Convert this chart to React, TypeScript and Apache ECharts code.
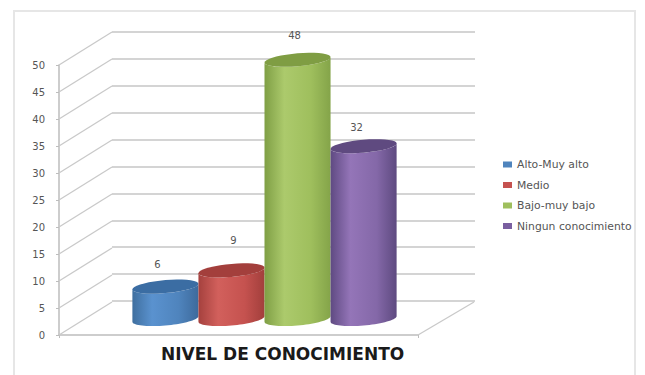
import React, { useEffect, useRef } from "react";
import * as echarts from "echarts";

const titleText = "NIVEL DE CONOCIMIENTO";
const seriesNames = ["Alto-Muy alto", "Medio", "Bajo-muy bajo", "Ningun conocimiento"];
const seriesValues = [6, 9, 48, 32];
const yTicks = [0, 5, 10, 15, 20, 25, 30, 35, 40, 45, 50];

// Horizontal shading of each cylinder wall, dark edge to highlight to dark edge.
const wallColors = [
  ["#3f6f9f", "#5a92cf", "#4f84bd", "#3d6a9c"],
  ["#a5413e", "#d2605c", "#c5524f", "#a23f3c"],
  ["#7f9f45", "#acca6c", "#9fbf5d", "#84a449"],
  ["#5f4a82", "#9475b8", "#8468a8", "#5e4a80"],
];
const capColors = ["#3b6da3", "#a33f3c", "#7f9d43", "#5f4a80"];
const legendColors = ["#4f84bd", "#c5524f", "#9fbf5d", "#7a5fa0"];

// Offset of the back wall from the front plane, in pixels.
const DEPTH_X = 53;
const DEPTH_Y = -33;
// The cylinders stand half-way between the front plane and the back wall.
const MID_X = 26;
const MID_Y = -16;
const SLOT_RATIO = 0.184;
const CAP_RY = 6.5;
const TILT = 2.8;
// Hand-placed nudges for the value labels above each cylinder.
const labelNudges = [
  [-8, -22],
  [2, -30],
  [-3, -24],
  [-7, -19],
];

function renderDepthLine(params: any, api: any) {
  const value = api.value(0);
  const [, y] = api.coord([0, value]);
  const left = params.coordSys.x;
  const lineStyle = { stroke: "#c9c9c9", lineWidth: 1.3, fill: "none" };
  const children: any[] = [
    { type: "line", shape: { x1: left, y1: y, x2: left + DEPTH_X, y2: y + DEPTH_Y }, style: lineStyle },
  ];
  if (value === 0) {
    const right = params.coordSys.x + params.coordSys.width;
    children.push({
      type: "line",
      shape: { x1: right, y1: y, x2: right + DEPTH_X + 3, y2: y + DEPTH_Y },
      style: lineStyle,
    });
  }
  return { type: "group", children };
}

// A point on a cylinder's sheared rim; the shear gives the slight perspective tilt.
function rimPoint(cx: number, cy: number, r: number, t: number) {
  return [cx + r * Math.cos(t), cy + CAP_RY * Math.sin(t) - TILT * Math.cos(t)];
}

function rimArc(cx: number, cy: number, r: number, from: number, to: number) {
  const steps = 36;
  const points: number[][] = [];
  for (let i = 0; i <= steps; i++) {
    points.push(rimPoint(cx, cy, r, from + ((to - from) * i) / steps));
  }
  return points;
}

function makeCylinder(index: number) {
  return (params: any, api: any) => {
    const value = api.value(1);
    const slot = api.size([1, 0])[0] * SLOT_RATIO;
    const [cx0, top0] = api.coord([0, value]);
    const [, base0] = api.coord([0, 0]);
    const cx = cx0 + (index - 1.5) * slot + MID_X;
    const top = top0 + MID_Y;
    const base = base0 + MID_Y;
    const r = slot / 2;

    const wall = [...rimArc(cx, top, r, Math.PI, 0), ...rimArc(cx, base, r, 0, Math.PI)];
    const cap = rimArc(cx, top, r, 0, Math.PI * 2);
    const stops = wallColors[index];
    const [nudgeX, nudgeY] = labelNudges[index];

    return {
      type: "group",
      children: [
        {
          type: "polygon",
          shape: { points: wall },
          style: {
            fill: new echarts.graphic.LinearGradient(0, 0, 1, 0, [
              { offset: 0, color: stops[0] },
              { offset: 0.3, color: stops[1] },
              { offset: 0.7, color: stops[2] },
              { offset: 1, color: stops[3] },
            ]),
          },
        },
        {
          type: "polygon",
          shape: { points: cap },
          style: { fill: capColors[index] },
        },
        {
          type: "text",
          style: {
            text: String(value),
            x: cx + nudgeX,
            y: top + nudgeY,
            align: "center",
            verticalAlign: "middle",
            fontFamily: "DejaVu Sans",
            fontSize: 10,
            fill: "#555555",
          },
        },
      ],
    };
  };
}

export default function App() {
  const ref = useRef<HTMLDivElement>(null);

  useEffect(() => {
    const chart = echarts.init(ref.current!, undefined, { renderer: "svg" });
    chart.setOption({
      animation: false,
      backgroundColor: "#ffffff",
      graphic: [
        {
          type: "rect",
          shape: { x: 14, y: 11, width: 621, height: 380 },
          style: { fill: "none", stroke: "#e6e6e6", lineWidth: 2 },
          silent: true,
          z: 0,
        },
      ],
      title: {
        text: titleText,
        left: 161,
        top: 345,
        padding: 0,
        textStyle: {
          fontFamily: "DejaVu Sans",
          fontWeight: "bold",
          fontSize: 17,
          color: "#1a1a1a",
        },
      },
      legend: {
        orient: "vertical",
        left: 498,
        top: 154,
        itemWidth: 9,
        itemHeight: 6,
        itemGap: 9.5,
        icon: "rect",
        data: seriesNames,
        textStyle: { fontFamily: "DejaVu Sans", fontSize: 10.8, color: "#555555" },
      },
      grid: [
        { left: 59, top: 65, width: 359, height: 270 },
        { left: 112, top: 32, width: 363, height: 269 },
      ],
      xAxis: [
        {
          type: "category",
          gridIndex: 0,
          data: [""],
          axisLine: { lineStyle: { color: "#bdbdbd", width: 1.5 } },
          axisTick: { show: true, length: 3, lineStyle: { color: "#bdbdbd" } },
          axisLabel: { show: false },
        },
        { type: "value", gridIndex: 1, min: 0, max: 1, show: false },
      ],
      yAxis: [
        {
          type: "value",
          gridIndex: 0,
          min: 0,
          max: 50,
          interval: 5,
          axisLine: { show: true, lineStyle: { color: "#bdbdbd", width: 1.5 } },
          axisTick: { show: true, length: 3, lineStyle: { color: "#bdbdbd" } },
          axisLabel: { fontFamily: "DejaVu Sans", fontSize: 10, color: "#555555", margin: 14 },
          splitLine: { show: false },
        },
        {
          type: "value",
          gridIndex: 1,
          min: 0,
          max: 50,
          interval: 5,
          axisLine: { show: false },
          axisTick: { show: false },
          axisLabel: { show: false },
          splitLine: { show: true, lineStyle: { color: "#c6c6c6", width: 1.5 } },
        },
      ],
      series: [
        {
          type: "custom",
          name: "depth",
          xAxisIndex: 0,
          yAxisIndex: 0,
          z: 1,
          silent: true,
          data: yTicks.map((tick) => [tick]),
          encode: { y: 0 },
          renderItem: renderDepthLine,
        },
        ...seriesNames.map((name, index) => ({
          type: "custom",
          name,
          xAxisIndex: 0,
          yAxisIndex: 0,
          z: 3 + index,
          itemStyle: { color: legendColors[index] },
          data: [[0, seriesValues[index]]],
          encode: { x: 0, y: 1 },
          renderItem: makeCylinder(index),
        })),
      ],
    });
    return () => chart.dispose();
  }, []);

  return <div ref={ref} style={{ position: "absolute", left: 0, top: 0, width: 645, height: 375 }} />;
}
